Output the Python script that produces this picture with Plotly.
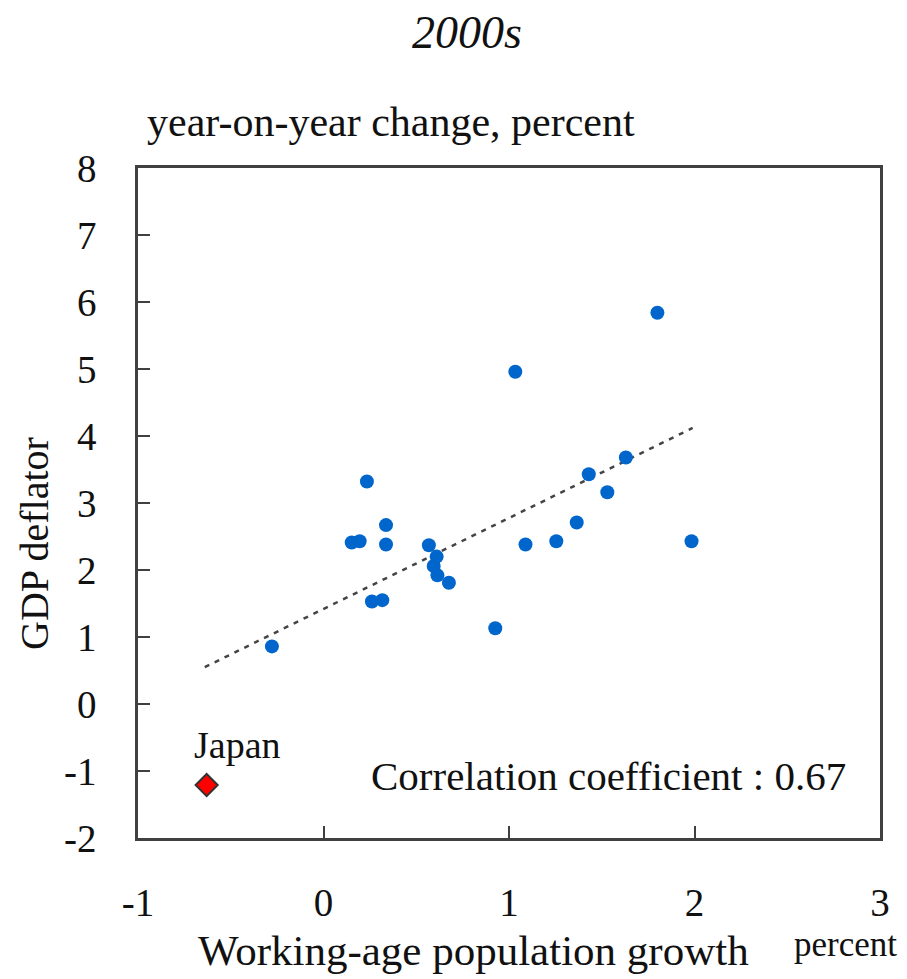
import plotly.graph_objects as go

# Working-age population growth (x) and GDP deflator (y), 2000s
countries_x = [1.80, 1.034, 1.63, 1.43, 1.53, 0.234, 0.337, 1.365, 0.152, 0.195,
               0.337, 1.089, 1.255, 1.984, 0.568, 0.610, 0.594, 0.614, 0.676,
               0.261, 0.317, 0.926, -0.278]
countries_y = [5.84, 4.96, 3.68, 3.43, 3.16, 3.32, 2.67, 2.71, 2.41, 2.43,
               2.38, 2.38, 2.43, 2.43, 2.37, 2.20, 2.06, 1.92, 1.81,
               1.53, 1.55, 1.13, 0.86]
japan_x = [-0.63]
japan_y = [-1.21]
trend_x = [-0.64, 1.99]
trend_y = [0.55, 4.12]

x_ticks = [-1, 0, 1, 2, 3]
y_ticks = [-2, -1, 0, 1, 2, 3, 4, 5, 6, 7, 8]

FONT = "Liberation Serif"
TXT = "#111111"
FRAME = "#404040"

fig = go.Figure()
fig.add_trace(go.Scatter(x=trend_x, y=trend_y, mode="lines",
                         line=dict(color="#444444", width=2.5, dash="5px,6px"),
                         hoverinfo="skip", showlegend=False))
fig.add_trace(go.Scatter(x=countries_x, y=countries_y, mode="markers",
                         marker=dict(color="#0066CC", size=14),
                         showlegend=False))
fig.add_trace(go.Scatter(x=japan_x, y=japan_y, mode="markers",
                         marker=dict(color="#FF0000", size=17, symbol="diamond",
                                     line=dict(color="#333333", width=2)),
                         showlegend=False))

axis_common = dict(showgrid=False, zeroline=False, showline=True, mirror=True,
                   linecolor=FRAME, linewidth=2.5, ticks="inside", ticklen=12,
                   tickwidth=2, tickcolor=FRAME,
                   tickfont=dict(family=FONT, size=39, color=TXT))

# page body has an 8px margin, so margins are reduced accordingly
fig.update_layout(
    width=907, height=979,
    margin=dict(l=130, r=35, t=160, b=149),
    paper_bgcolor="white", plot_bgcolor="white",
    xaxis=dict(range=[-1, 3], tickvals=x_ticks, ticktext=[str(v) for v in x_ticks],
               ticklabelstandoff=28, **axis_common),
    yaxis=dict(range=[-2, 8], tickvals=y_ticks, ticktext=[str(v) for v in y_ticks],
               ticklabelstandoff=31, **axis_common),
)

def pax(px):
    return (px - 138) / 742

def pay(py):
    return (838 - py) / 670

annots = [
    dict(text="2000s", x=pax(467), y=pay(33), xref="paper", yref="paper",
         xanchor="center", yanchor="middle",
         font=dict(family=FONT, size=46, color=TXT, style="italic")),
    dict(text="year-on-year change, percent", x=pax(145), y=pay(122), xref="paper",
         yref="paper", xanchor="left", yanchor="middle",
         font=dict(family=FONT, size=42, color=TXT)),
    dict(text="Working-age population growth", x=pax(473), y=pay(950), xref="paper",
         yref="paper", xanchor="center", yanchor="middle",
         font=dict(family=FONT, size=43, color=TXT)),
    dict(text="percent", x=pax(845), y=pay(944), xref="paper", yref="paper",
         xanchor="center", yanchor="middle",
         font=dict(family=FONT, size=35, color=TXT)),
    dict(text="GDP deflator", x=pax(34), y=pay(544), xref="paper", yref="paper",
         xanchor="center", yanchor="middle", textangle=-90,
         font=dict(family=FONT, size=40, color=TXT)),
    dict(text="Japan", x=-0.466, y=-0.61, xref="x", yref="y",
         xanchor="center", yanchor="middle",
         font=dict(family=FONT, size=38, color=TXT)),
    dict(text="Correlation coefficient : 0.67", x=2.83, y=-1.07, xref="x", yref="y",
         xanchor="right", yanchor="middle",
         font=dict(family=FONT, size=41, color=TXT)),
]
for a in annots:
    fig.add_annotation(showarrow=False, **a)

fig.write_html("out.html")
